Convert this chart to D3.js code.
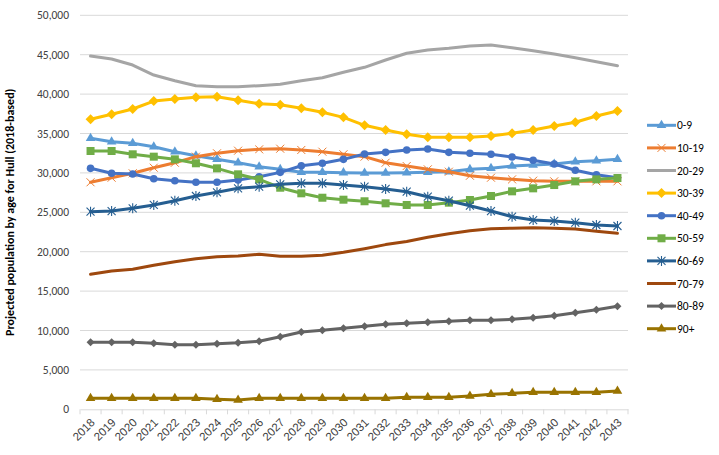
<!DOCTYPE html>
<html>
<head>
<meta charset="utf-8">
<script src="https://cdn.jsdelivr.net/npm/d3@7"></script>
<style>
  html, body { margin: 0; padding: 0; background: #fff; }
  svg { display: block; font-family: Carlito, Calibri, "Liberation Sans", Arial, sans-serif; }
</style>
</head>
<body>
<svg id="chart" width="719" height="455"></svg>
<script>
const years = d3.range(2018, 2044).map(String);
const yTicks = [0, 5000, 10000, 15000, 20000, 25000, 30000, 35000, 40000, 45000, 50000];
const seriesNames = ["0-9", "10-19", "20-29", "30-39", "40-49", "50-59", "60-69", "70-79", "80-89", "90+"];
const age0_9 = [34390, 33960, 33760, 33320, 32690, 32180, 31720, 31290, 30790, 30450, 30070, 30070, 30030, 29990, 29990, 30030, 30070, 30150, 30450, 30580, 30870, 31000, 31130, 31420, 31550, 31720];
const age10_19 = [28810, 29390, 29950, 30660, 31290, 32060, 32490, 32820, 32990, 33070, 32910, 32690, 32360, 32060, 31290, 30870, 30450, 30150, 29640, 29390, 29180, 29010, 28930, 28930, 28930, 28930];
const age20_29 = [44830, 44450, 43690, 42420, 41700, 41070, 40940, 40940, 41070, 41240, 41700, 42080, 42770, 43400, 44330, 45180, 45600, 45810, 46100, 46230, 45890, 45510, 45090, 44620, 44110, 43600];
const age30_39 = [36800, 37440, 38110, 39120, 39380, 39590, 39670, 39210, 38780, 38650, 38200, 37690, 37050, 36040, 35440, 34900, 34520, 34520, 34520, 34680, 35020, 35440, 35950, 36420, 37220, 37850];
const age40_49 = [30580, 29950, 29860, 29260, 29010, 28810, 28810, 29100, 29520, 30070, 30910, 31220, 31720, 32400, 32610, 32910, 33030, 32610, 32490, 32360, 32020, 31600, 31130, 30330, 29770, 29390];
const age50_59 = [32780, 32780, 32360, 32060, 31720, 31220, 30580, 29820, 29180, 28120, 27410, 26850, 26600, 26400, 26140, 25930, 25930, 26220, 26560, 27070, 27660, 28040, 28460, 28930, 29180, 29350];
const age60_69 = [25080, 25160, 25510, 25930, 26470, 27070, 27540, 28040, 28250, 28550, 28680, 28680, 28460, 28250, 27960, 27610, 26980, 26470, 25840, 25160, 24440, 24020, 23900, 23680, 23390, 23260];
const age70_79 = [17130, 17550, 17770, 18270, 18730, 19110, 19370, 19450, 19670, 19420, 19420, 19540, 19920, 20380, 20900, 21300, 21830, 22280, 22660, 22920, 22970, 23050, 22970, 22880, 22590, 22330];
const age80_89 = [8500, 8500, 8500, 8380, 8200, 8200, 8330, 8450, 8630, 9210, 9810, 10020, 10280, 10530, 10790, 10910, 11040, 11170, 11290, 11290, 11420, 11620, 11880, 12260, 12640, 13070];
const age90p = [1400, 1400, 1400, 1400, 1400, 1400, 1270, 1180, 1400, 1400, 1400, 1400, 1400, 1400, 1400, 1520, 1520, 1520, 1690, 1900, 2030, 2160, 2160, 2160, 2160, 2320];

const seriesValues = [age0_9, age10_19, age20_29, age30_39, age40_49, age50_59, age60_69, age70_79, age80_89, age90p];
const colors = ["#5B9BD5", "#ED7D31", "#A5A5A5", "#FFC000", "#4472C4", "#70AD47", "#255E91", "#9E480E", "#636363", "#997300"];
const markers = ["triangle", "x", null, "diamond", "circle", "square", "star", null, "diamondSmall", "triangle"];

const svg = d3.select("#chart");
const mLeft = 80, mRight = 628, mTop = 15.3, mBottom = 409.3;

const x = d3.scaleBand().domain(years).range([mLeft, mRight]);
const y = d3.scaleLinear().domain([0, 50000]).range([mBottom, mTop]);

// gridlines
svg.append("g").selectAll("line").data(yTicks.filter(d => d > 0)).join("line")
  .attr("x1", mLeft).attr("x2", mRight)
  .attr("y1", d => y(d)).attr("y2", d => y(d))
  .attr("stroke", "#d9d9d9").attr("stroke-width", 1);

// y axis labels
const yAxis = d3.axisLeft(y).tickValues(yTicks).tickSize(0).tickPadding(0)
  .tickFormat(d3.format(","));
const gy = svg.append("g").attr("transform", `translate(${mLeft - 11},0)`).call(yAxis);
gy.select(".domain").remove();
gy.selectAll("text").attr("font-size", 11.5).attr("fill", "#404040")
  .style("font-family", "Carlito, Calibri, 'Liberation Sans', sans-serif");

// x axis
const xAxis = d3.axisBottom(x).tickSize(0).tickPadding(0);
const gx = svg.append("g").attr("transform", `translate(0,${mBottom})`).call(xAxis);
gx.select(".domain").attr("stroke", "#d9d9d9").attr("stroke-width", 1);
gx.selectAll("text")
  .attr("font-size", 11.5).attr("fill", "#404040")
  .attr("text-anchor", "end")
  .attr("dy", null)
  .attr("transform", "translate(5,14) rotate(-45)")
  .attr("y", 0).attr("x", 0);
// boundary ticks
svg.append("g").selectAll("line").data(years.concat(["end"])).join("line")
  .attr("x1", (d, i) => mLeft + i * x.step()).attr("x2", (d, i) => mLeft + i * x.step())
  .attr("y1", mBottom).attr("y2", mBottom + 5)
  .attr("stroke", "#d9d9d9").attr("stroke-width", 1);

// y title
svg.append("text")
  .attr("transform", `translate(14,${(mTop + mBottom) / 2}) rotate(-90)`)
  .attr("text-anchor", "middle")
  .attr("font-size", 12).attr("font-weight", "bold").attr("fill", "#000")
  .text("Projected  population by age for Hull (2018-based)");

const cx = d => x(d) + x.bandwidth() / 2;

function drawMarker(g, type, color, px, py) {
  if (!type) return;
  if (type === "triangle") {
    g.append("path").attr("d", d3.symbol(d3.symbolTriangle, 40)()).attr("transform", `translate(${px},${py})`).attr("fill", color);
  } else if (type === "diamond") {
    g.append("path").attr("d", `M0,-5L5,0L0,5L-5,0Z`).attr("transform", `translate(${px},${py})`).attr("fill", color);
  } else if (type === "diamondSmall") {
    g.append("path").attr("d", `M0,-4L4,0L0,4L-4,0Z`).attr("transform", `translate(${px},${py})`).attr("fill", color);
  } else if (type === "circle") {
    g.append("circle").attr("cx", px).attr("cy", py).attr("r", 3.8).attr("fill", color);
  } else if (type === "square") {
    g.append("rect").attr("x", px - 4).attr("y", py - 4).attr("width", 8).attr("height", 8).attr("fill", color);
  } else if (type === "x") {
    g.append("path").attr("d", `M-4,-4L4,4M-4,4L4,-4`).attr("transform", `translate(${px},${py})`)
      .attr("stroke", color).attr("stroke-width", 1).attr("fill", "none");
  } else if (type === "star") {
    g.append("path").attr("d", `M-4,-4L4,4M-4,4L4,-4M0,-5L0,5`).attr("transform", `translate(${px},${py})`)
      .attr("stroke", color).attr("stroke-width", 1.1).attr("fill", "none");
  }
}

const line = d3.line().x(d => cx(d.year)).y(d => y(d.value));

seriesNames.forEach((name, i) => {
  const data = years.map((yr, j) => ({ year: yr, value: seriesValues[i][j] }));
  const g = svg.append("g");
  g.append("path").datum(data).attr("d", line)
    .attr("fill", "none").attr("stroke", colors[i]).attr("stroke-width", 3)
    .attr("stroke-linejoin", "round").attr("stroke-linecap", "round");
  data.forEach(d => drawMarker(g, markers[i], colors[i], cx(d.year), y(d.value)));
});

// legend
const legend = svg.append("g");
seriesNames.forEach((name, i) => {
  const ly = 125.3 + i * 22.6;
  legend.append("line").attr("x1", 647).attr("x2", 676).attr("y1", ly).attr("y2", ly)
    .attr("stroke", colors[i]).attr("stroke-width", 3);
  drawMarker(legend, markers[i], colors[i], 661.5, ly);
  legend.append("text").attr("x", 677).attr("y", ly).attr("dy", "0.35em")
    .attr("font-size", 11.5).attr("fill", "#000").text(name);
});
</script>
</body>
</html>
